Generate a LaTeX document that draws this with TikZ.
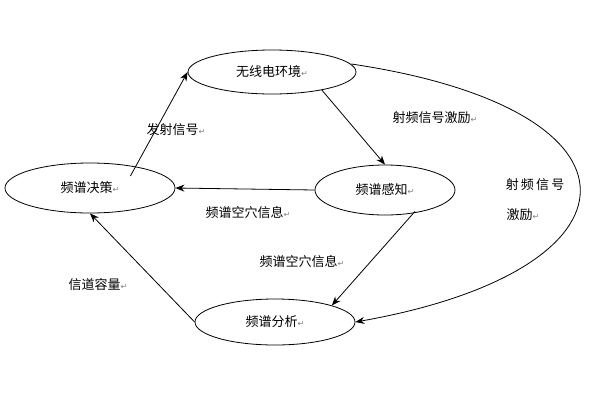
\documentclass[tikz,border=0pt]{standalone}
\usepackage{fontspec}
\setmainfont{Noto Sans CJK SC}
\newfontfamily\symfont{DejaVu Sans}
\usetikzlibrary{arrows.meta, positioning, shapes.geometric}
\newcommand{\pmark}{{\symfont\fontsize{8}{9}\selectfont\color{gray}↵}}

\begin{document}
\begin{tikzpicture}[x=1pt, y=-1pt,
  every node/.style={font=\fontsize{13}{15}\selectfont},
  stage/.style={ellipse, draw, thick, inner sep=0pt},
  link/.style={thick, -{Stealth[length=9pt, width=7pt]}}]
  \useasboundingbox (0,0) rectangle (600,400);

  % Stages of the cycle
  \node[stage, minimum width=168pt, minimum height=44pt] (env) at (272,72) {无线电环境\pmark};
  \node[stage, minimum width=170pt, minimum height=50pt] (dec) at (90,188) {频谱决策\pmark};
  \node[stage, minimum width=140pt, minimum height=50pt] (sen) at (385,190) {频谱感知\pmark};
  \node[stage, minimum width=160pt, minimum height=46pt] (ana) at (275,322) {频谱分析\pmark};

  % Connectors
  \draw[link] (dec.north east) ++(-20,6) -- (env.west);
  \draw[link] (env.south east) ++(-10,2) -- (sen.north);
  \draw[link] (sen.west) -- (dec.east);
  \draw[link] (sen.south) ++(30,-4) -- (ana.north east);
  \draw[link] (ana.west) -- (dec.south);
  \draw[link] (env.east) ++(-5,-8) .. controls (660,110) and (650,270) .. (ana.east);

  % Labels
  \node (lblsend) at (176,130) {发射信号\pmark};
  \node (lblrf) at (435,118) {射频信号激励\pmark};
  \node (lblhole) at (248,213) {频谱空穴信息\pmark};
  \node (lblhole2) at (302,262) {频谱空穴信息\pmark};
  \node (lblcap) at (98,285) {信道容量\pmark};
  \node (lblrf2) at (535,185) {射\,频\,信\,号};
  \node (lblrf3) at (523,215) {激励\pmark};
\end{tikzpicture}
\end{document}
